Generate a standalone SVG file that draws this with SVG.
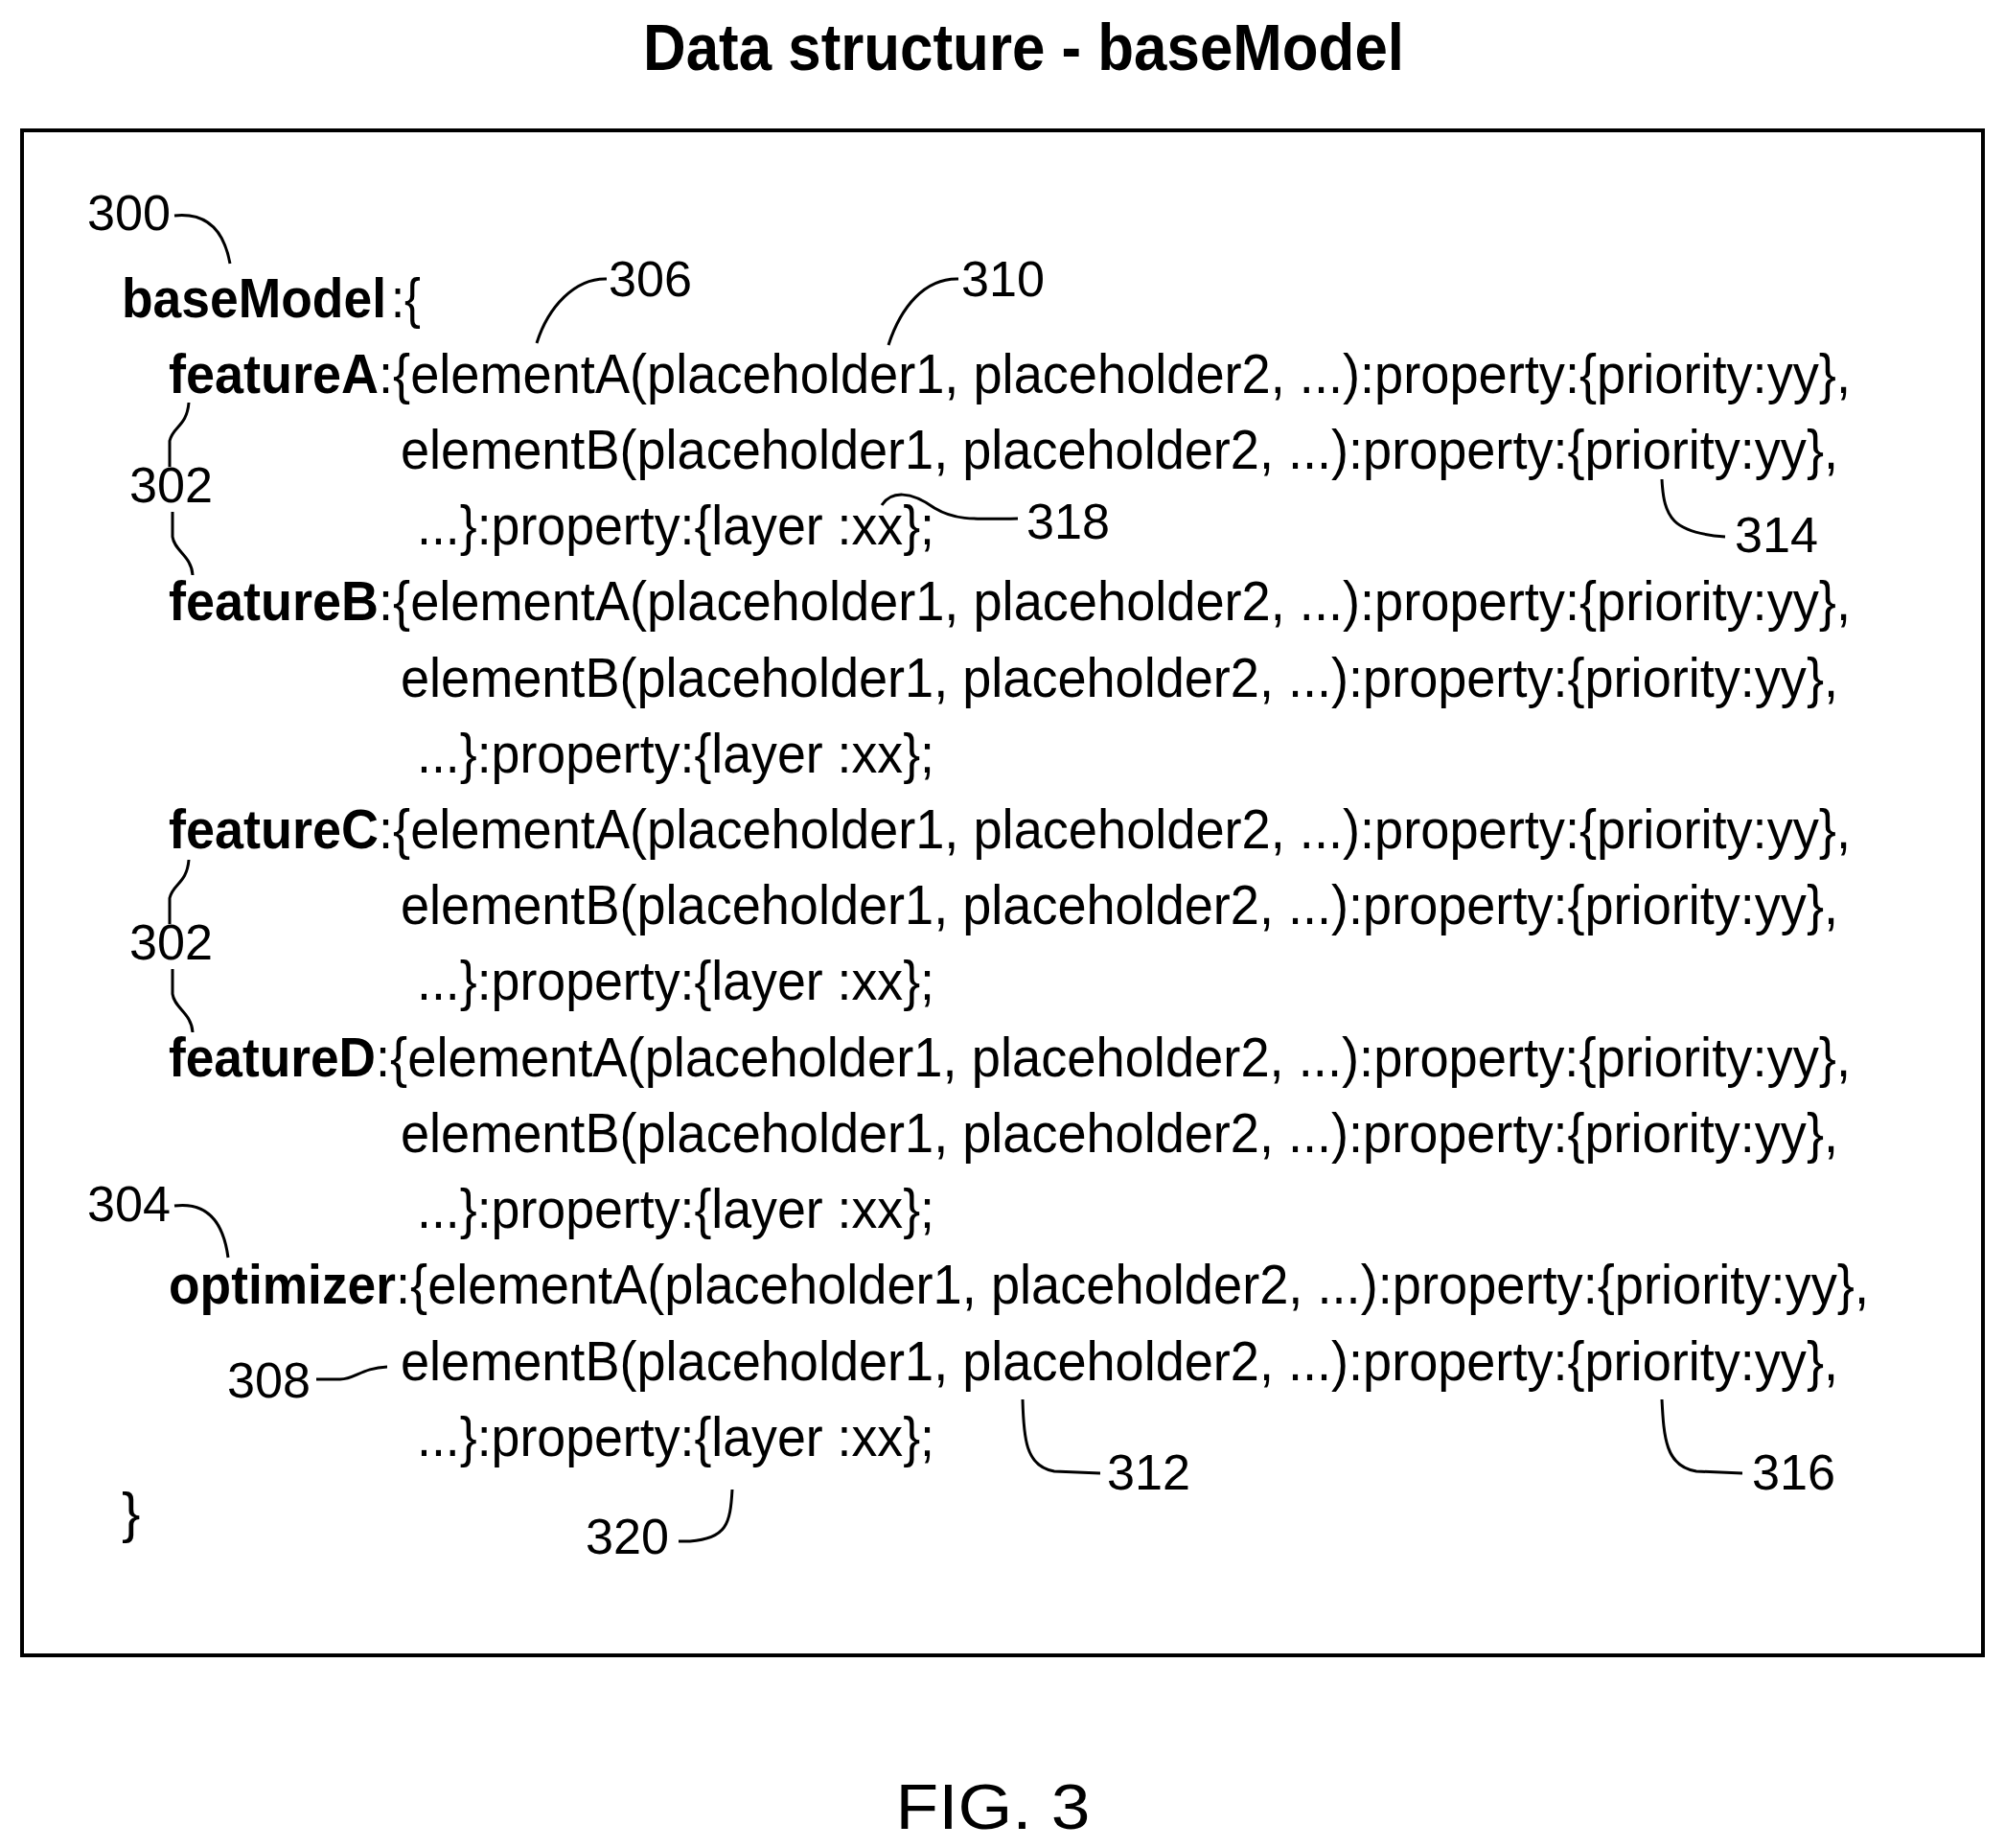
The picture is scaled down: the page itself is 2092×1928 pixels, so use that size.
<svg xmlns="http://www.w3.org/2000/svg" width="2092" height="1928" viewBox="0 0 2092 1928">
<style>
text{font-family:"Liberation Sans",Arial,sans-serif;fill:#000}
.t{font-size:58px}
.b{font-weight:bold}
.n{font-size:52px}
.l{fill:none;stroke:#000;stroke-width:3}
</style>
<rect width="2092" height="1928" fill="#fff"/>
<text x="1068" y="73" text-anchor="middle" class="b" font-size="68" textLength="794" lengthAdjust="spacingAndGlyphs">Data structure - baseModel</text>
<rect x="23" y="136" width="2046" height="1591" fill="none" stroke="#000" stroke-width="4"/>
<g id="code" class="t">
<text x="127" y="331"><tspan class="b" textLength="276" lengthAdjust="spacingAndGlyphs">baseModel</tspan><tspan x="408" textLength="31" lengthAdjust="spacingAndGlyphs">:{</tspan></text>
<g id="featureA">
<text x="176" y="410"><tspan class="b" textLength="219" lengthAdjust="spacingAndGlyphs">featureA</tspan><tspan x="395" textLength="1536" lengthAdjust="spacingAndGlyphs">:{elementA(placeholder1, placeholder2, ...):property:{priority:yy},</tspan></text>
<text x="418" y="489" textLength="1500" lengthAdjust="spacingAndGlyphs">elementB(placeholder1, placeholder2, ...):property:{priority:yy},</text>
<text x="435" y="568" textLength="540" lengthAdjust="spacingAndGlyphs">...}:property:{layer :xx};</text>
</g>
<g id="featureB">
<text x="176" y="647"><tspan class="b" textLength="219" lengthAdjust="spacingAndGlyphs">featureB</tspan><tspan x="395" textLength="1536" lengthAdjust="spacingAndGlyphs">:{elementA(placeholder1, placeholder2, ...):property:{priority:yy},</tspan></text>
<text x="418" y="727" textLength="1500" lengthAdjust="spacingAndGlyphs">elementB(placeholder1, placeholder2, ...):property:{priority:yy},</text>
<text x="435" y="806" textLength="540" lengthAdjust="spacingAndGlyphs">...}:property:{layer :xx};</text>
</g>
<g id="featureC">
<text x="176" y="885"><tspan class="b" textLength="219" lengthAdjust="spacingAndGlyphs">featureC</tspan><tspan x="395" textLength="1536" lengthAdjust="spacingAndGlyphs">:{elementA(placeholder1, placeholder2, ...):property:{priority:yy},</tspan></text>
<text x="418" y="964" textLength="1500" lengthAdjust="spacingAndGlyphs">elementB(placeholder1, placeholder2, ...):property:{priority:yy},</text>
<text x="435" y="1043" textLength="540" lengthAdjust="spacingAndGlyphs">...}:property:{layer :xx};</text>
</g>
<g id="featureD">
<text x="176" y="1123"><tspan class="b" textLength="216" lengthAdjust="spacingAndGlyphs">featureD</tspan><tspan x="392" textLength="1539" lengthAdjust="spacingAndGlyphs">:{elementA(placeholder1, placeholder2, ...):property:{priority:yy},</tspan></text>
<text x="418" y="1202" textLength="1500" lengthAdjust="spacingAndGlyphs">elementB(placeholder1, placeholder2, ...):property:{priority:yy},</text>
<text x="435" y="1281" textLength="540" lengthAdjust="spacingAndGlyphs">...}:property:{layer :xx};</text>
</g>
<g id="optimizer">
<text x="176" y="1360"><tspan class="b" textLength="237" lengthAdjust="spacingAndGlyphs">optimizer</tspan><tspan x="413" textLength="1537" lengthAdjust="spacingAndGlyphs">:{elementA(placeholder1, placeholder2, ...):property:{priority:yy},</tspan></text>
<text x="418" y="1440" textLength="1500" lengthAdjust="spacingAndGlyphs">elementB(placeholder1, placeholder2, ...):property:{priority:yy},</text>
<text x="435" y="1519" textLength="540" lengthAdjust="spacingAndGlyphs">...}:property:{layer :xx};</text>
</g>
<text x="127" y="1598">}</text>
</g>
<g id="labels" class="n">
<text x="91" y="240" textLength="87" lengthAdjust="spacingAndGlyphs">300</text>
<text x="635" y="309" textLength="87" lengthAdjust="spacingAndGlyphs">306</text>
<text x="1003" y="309" textLength="87" lengthAdjust="spacingAndGlyphs">310</text>
<text x="135" y="524" textLength="87" lengthAdjust="spacingAndGlyphs">302</text>
<text x="135" y="1001" textLength="87" lengthAdjust="spacingAndGlyphs">302</text>
<text x="1071" y="562" textLength="87" lengthAdjust="spacingAndGlyphs">318</text>
<text x="1810" y="576" textLength="87" lengthAdjust="spacingAndGlyphs">314</text>
<text x="91" y="1274" textLength="87" lengthAdjust="spacingAndGlyphs">304</text>
<text x="237" y="1458" textLength="87" lengthAdjust="spacingAndGlyphs">308</text>
<text x="1155" y="1554" textLength="87" lengthAdjust="spacingAndGlyphs">312</text>
<text x="1828" y="1554" textLength="87" lengthAdjust="spacingAndGlyphs">316</text>
<text x="611" y="1621" textLength="87" lengthAdjust="spacingAndGlyphs">320</text>
</g>
<g id="connectors" class="l">
<path d="M182,225 Q230,220 240,275"/>
<path d="M633,291 C600,290 572,320 560,358"/>
<path d="M1000,291 C965,290 940,320 927,360"/>
<path d="M197,420 C195,445 180,445 177,460 L177,487"/>
<path d="M180,534 L180,560 C182,575 200,580 201,600"/>
<path d="M197,897 C195,922 180,922 177,937 L177,964"/>
<path d="M180,1011 L180,1037 C182,1052 200,1057 201,1077"/>
<path d="M920,527 C930,512 950,512 975,530 C995,542 1010,542 1062,541"/>
<path d="M1734,500 C1736,540 1745,556 1800,560"/>
<path d="M182,1258 Q230,1252 238,1312"/>
<path d="M330,1439 L355,1439 C370,1439 378,1427 404,1426"/>
<path d="M1067,1460 C1068,1500 1070,1530 1100,1535 L1148,1537"/>
<path d="M1734,1460 C1736,1500 1738,1530 1770,1535 L1818,1537"/>
<path d="M764,1554 C762,1590 758,1605 720,1608 L708,1608"/>
</g>
<text x="1036" y="1908" text-anchor="middle" font-size="67" textLength="203" lengthAdjust="spacingAndGlyphs">FIG. 3</text>
</svg>
